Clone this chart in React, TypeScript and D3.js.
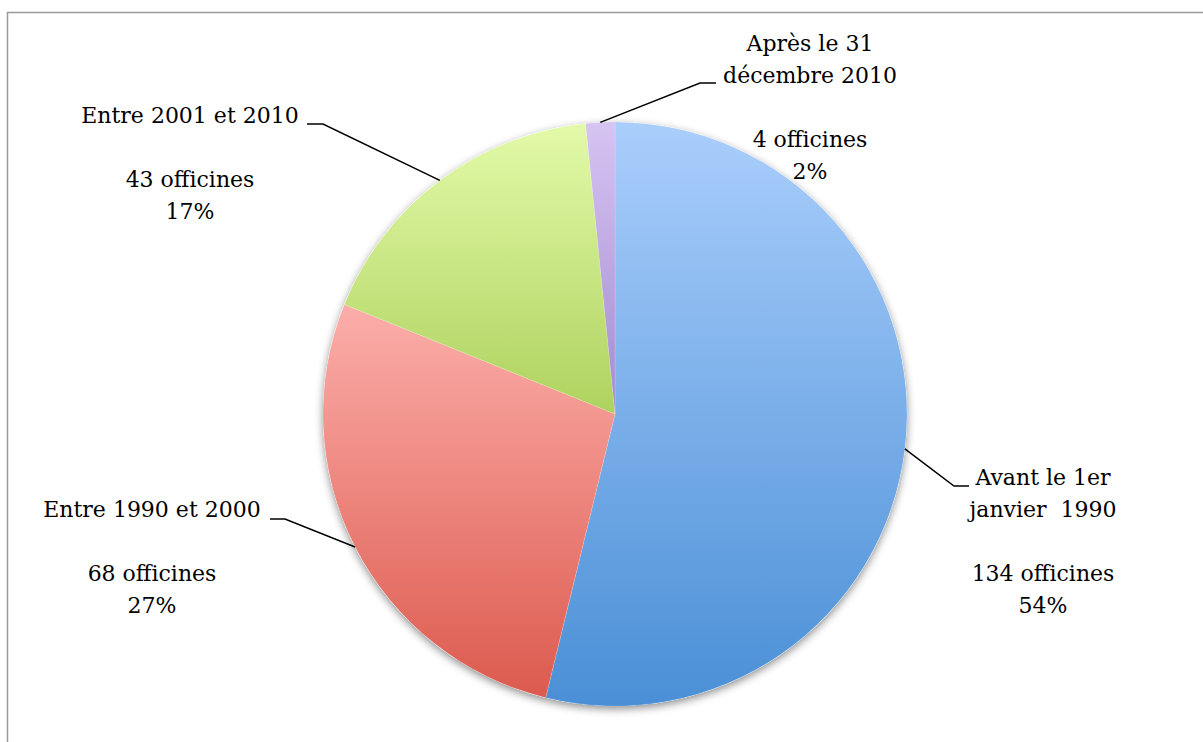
import React from "react";
import * as d3 from "d3";

const categories = ["Avant le 1er janvier 1990", "Entre 1990 et 2000", "Entre 2001 et 2010", "Après le 31 décembre 2010"];
const counts = [134, 68, 43, 4];
const percentLabels = ["54%", "27%", "17%", "2%"];
const nameLines = [["Avant le 1er", "janvier  1990"], ["Entre 1990 et 2000"], ["Entre 2001 et 2010"], ["Après le 31", "décembre 2010"]];
const gradTop = ["#aacefc", "#fcaeaa", "#e3faa9", "#d6c4f2"];
const gradBottom = ["#4a8fd6", "#dc5a4e", "#aed25e", "#a48bcf"];

// label layout: text center x, first baseline y, leader elbow and end
const labelLayout = [
  { cx: 1043, y0: 485, elbow: [954, 486], end: [969, 486] },
  { cx: 152, y0: 517, elbow: [285, 519], end: [270, 519] },
  { cx: 190, y0: 123, elbow: [323, 124], end: [307, 124] },
  { cx: 810, y0: 51, elbow: [700, 83], end: [716, 83] },
];

const W = 1203, H = 742;
const CX = 615, CY = 414, R = 292;
const LINE = 32;
const FONT = "'DejaVu Serif', 'Liberation Serif', serif";

export default function App() {
  const pie = d3.pie<number>().sort(null).value((d) => d)(counts);
  const arc = d3.arc<d3.PieArcDatum<number>>().innerRadius(0).outerRadius(R);
  const total = d3.sum(counts);

  return (
    <svg width={W} height={H} style={{ position: "absolute", left: 0, top: 0, background: "#fff" }}>
      <defs>
        {categories.map((c, i) => (
          <linearGradient key={c} id={`g${i}`} x1="0" y1="0" x2="0" y2="1">
            <stop offset="0" stopColor={gradTop[i]} />
            <stop offset="1" stopColor={gradBottom[i]} />
          </linearGradient>
        ))}
        <filter id="shadow" x="-20%" y="-20%" width="140%" height="140%">
          <feDropShadow dx="0" dy="3" stdDeviation="4" floodColor="#000" floodOpacity="0.45" />
        </filter>
      </defs>
      <rect x={7.5} y={12.5} width={W + 20} height={H + 20} fill="#fff" stroke="#9a9a9a" strokeWidth={1.5} />
      <g transform={`translate(${CX},${CY})`}>
        <circle r={R} fill="#fff" filter="url(#shadow)" />
        {pie.map((p, i) => (
          <path key={i} d={arc(p) || ""} fill={`url(#g${i})`} stroke="rgba(255,255,255,0.25)" strokeWidth={0.6} />
        ))}
      </g>
      {pie.map((p, i) => {
        const a = (p.startAngle + p.endAngle) / 2;
        const sx = CX + R * Math.sin(a);
        const sy = CY - R * Math.cos(a);
        const L = labelLayout[i];
        const lines = [...nameLines[i], "", `${counts[i]} officines`, percentLabels[i]];
        return (
          <g key={i}>
            <polyline
              points={`${sx},${sy} ${L.elbow[0]},${L.elbow[1]} ${L.end[0]},${L.end[1]}`}
              fill="none"
              stroke="#000"
              strokeWidth={1.5}
            />
            <text fontFamily={FONT} fontSize={22} fill="#000" textAnchor="middle" style={{ whiteSpace: "pre" }}>
              {lines.map((t, j) =>
                t ? (
                  <tspan key={j} x={L.cx} y={L.y0 + j * LINE}>
                    {t}
                  </tspan>
                ) : null
              )}
            </text>
          </g>
        );
      })}
      <desc>{`total ${total}`}</desc>
    </svg>
  );
}
